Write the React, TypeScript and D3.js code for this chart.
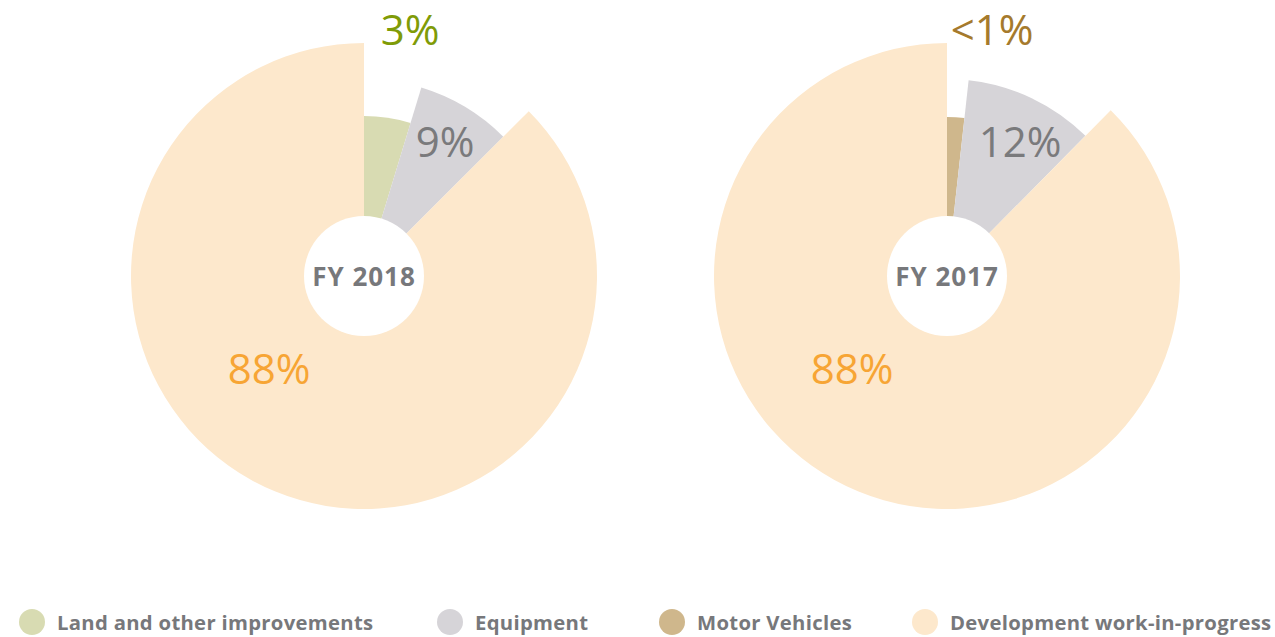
import React from "react";
import * as d3 from "d3";

const categories = ["Land and other improvements", "Equipment", "Motor Vehicles", "Development work-in-progress"];
const colors = ["#d8dbb2", "#d6d4d8", "#cfb78c", "#fde8cc"];
const labelColors = ["#7f9b07", "#7a7a7c", "#a57a2c", "#f7a534"];

// FY 2018: categories drawn, share of each slice as drawn (percent), printed labels
const fy2018Cats = [0, 1, 3];
const fy2018Shares = [4.7, 7.8, 87.5];
const fy2018Labels = ["3%", "9%", "88%"];

// FY 2017
const fy2017Cats = [2, 1, 3];
const fy2017Shares = [1.75, 10.65, 87.6];
const fy2017Labels = ["<1%", "12%", "88%"];

const outerR: Record<string, number> = {
  "Land and other improvements": 160,
  "Equipment": 197,
  "Motor Vehicles": 159,
  "Development work-in-progress": 233,
};

type Slice = { cat: number; value: number; label: string };

const charts: { title: string; cx: number; slices: Slice[]; labelPos: [number, number][] }[] = [
  {
    title: "FY 2018",
    cx: 364,
    slices: fy2018Cats.map((c, i) => ({ cat: c, value: fy2018Shares[i], label: fy2018Labels[i] })),
    labelPos: [[410, 45], [445, 157], [269, 384]],
  },
  {
    title: "FY 2017",
    cx: 947,
    slices: fy2017Cats.map((c, i) => ({ cat: c, value: fy2017Shares[i], label: fy2017Labels[i] })),
    labelPos: [[992, 45], [1020, 157], [852, 384]],
  },
];

const FONT = "'Open Sans', 'DejaVu Sans', sans-serif";

export default function App() {
  const W = 1275, H = 637, cy = 276;
  const pie = d3.pie<Slice>().value((d) => d.value).sort(null);
  const legendX = [32, 450, 672, 925];
  return (
    <svg width={W} height={H} style={{ position: "absolute", left: 0, top: 0, background: "#fff" }}>
      {charts.map((ch) => {
        const arcs = pie(ch.slices);
        return (
          <g key={ch.title}>
            <g transform={`translate(${ch.cx},${cy})`}>
              {arcs.map((a, i) => {
                const path = d3.arc<d3.PieArcDatum<Slice>>()
                  .innerRadius(0)
                  .outerRadius(outerR[categories[a.data.cat]])(a) as string;
                return <path key={i} d={path} fill={colors[a.data.cat]} />;
              })}
              <circle r={60} fill="#fff" />
              <text y={10} textAnchor="middle" fontFamily={FONT} fontWeight={700} fontSize={26}
                letterSpacing={1} fill="#77787b">
                {ch.title}
              </text>
            </g>
            {arcs.map((a, i) => (
              <text key={"l" + i} x={ch.labelPos[i][0]} y={ch.labelPos[i][1]} textAnchor="middle"
                fontFamily={FONT} fontSize={42} fill={labelColors[a.data.cat]}>
                {a.data.label}
              </text>
            ))}
          </g>
        );
      })}
      {categories.map((c, i) => (
        <g key={c}>
          <circle cx={legendX[i]} cy={622} r={13} fill={colors[i]} />
          <text x={legendX[i] + 25} y={630} fontFamily={FONT} fontWeight={700} fontSize={20.3}
            letterSpacing={0.3} fill="#77787b">
            {c}
          </text>
        </g>
      ))}
    </svg>
  );
}
